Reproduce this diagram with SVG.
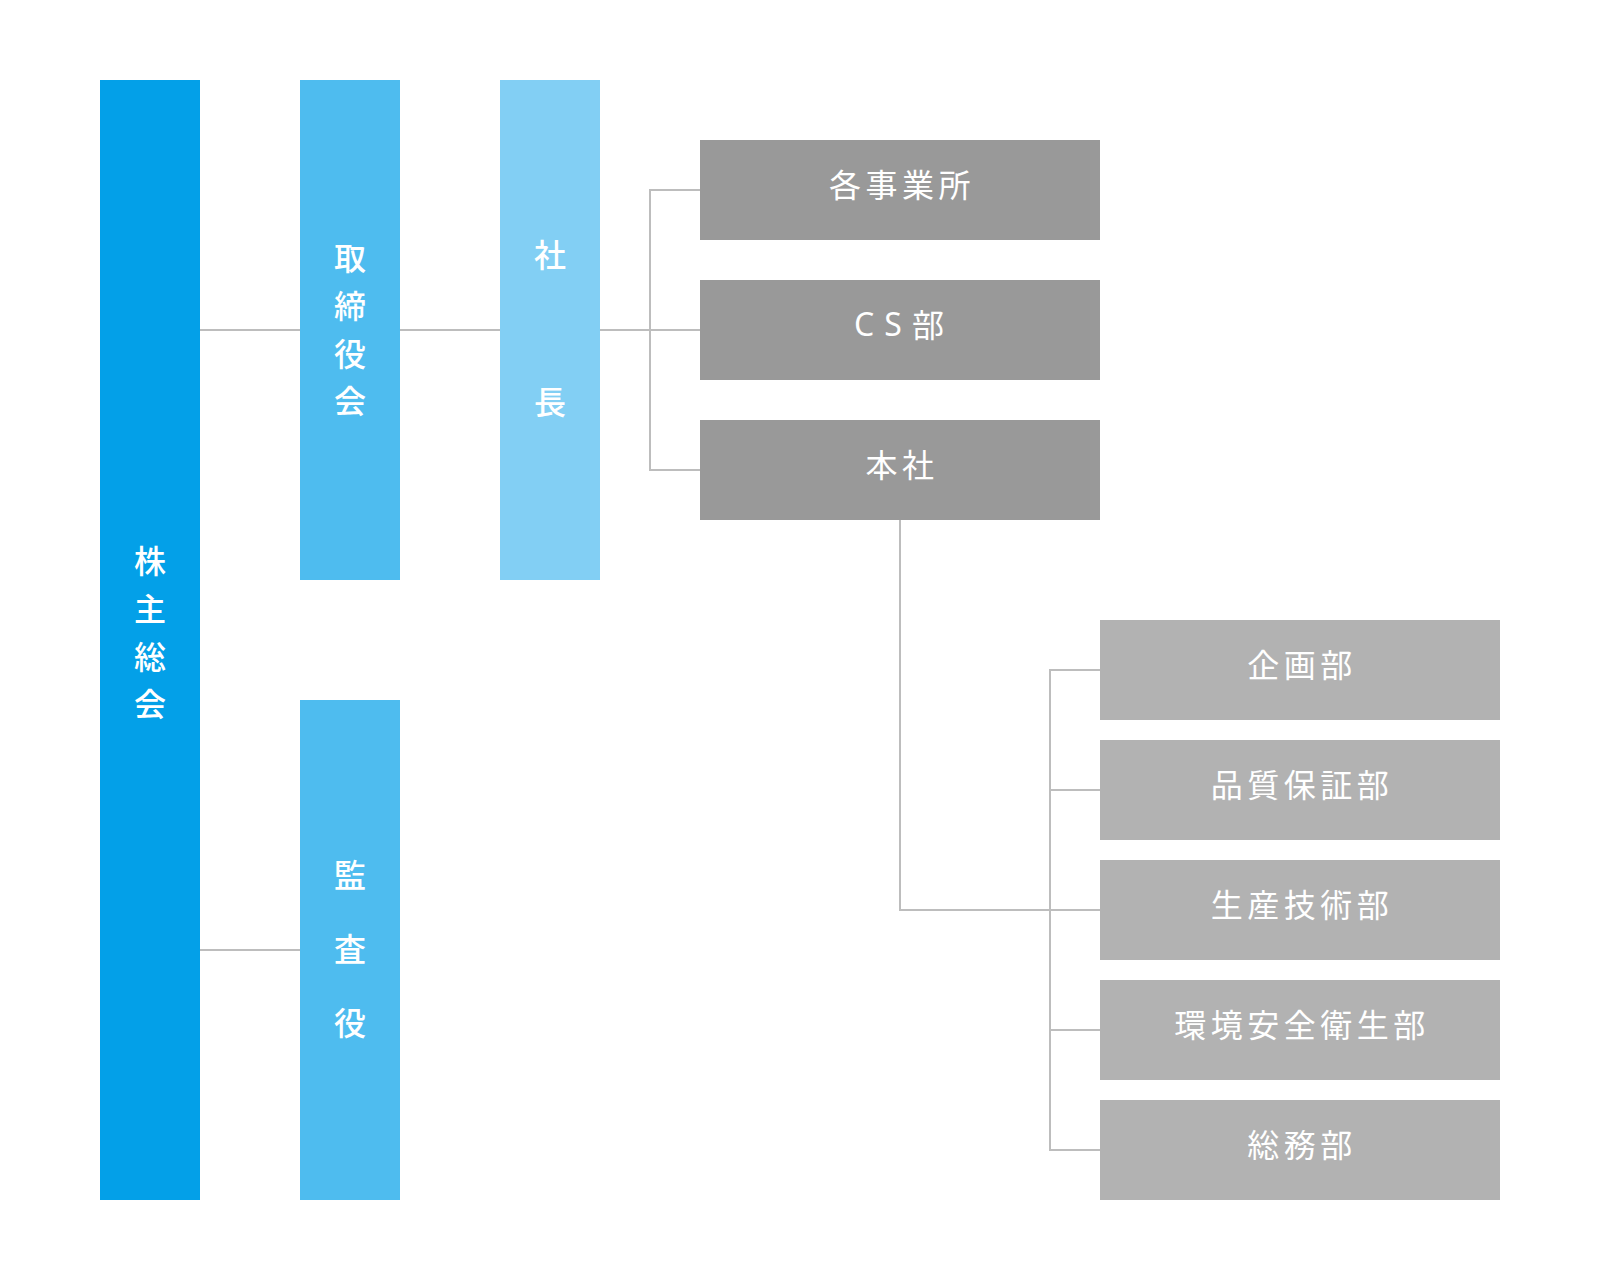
<svg xmlns="http://www.w3.org/2000/svg" width="1600" height="1280" viewBox="0 0 1600 1280">
<style>
.t{font-family:"Noto Sans CJK JP","Noto Sans",sans-serif;font-size:32px;fill:#ffffff;text-anchor:middle;dominant-baseline:central}
.h{letter-spacing:4.5px}
.v{font-weight:500}
.lat{font-family:"Noto Sans",sans-serif}
.c{fill:none;stroke:#bdbdbd;stroke-width:2}
.b1{fill:#03a0e8}.b2{fill:#4ebcef}.b3{fill:#82cff4}.g1{fill:#999999}.g2{fill:#b2b2b2}
</style>
<rect width="1600" height="1280" fill="#ffffff"/>
<g id="connectors">
<path class="c" d="M200 330H300M400 330H500M600 330H700"/>
<path class="c" d="M700 190H650V470H700"/>
<path class="c" d="M200 950H300"/>
<path class="c" d="M900 520V910H1100"/>
<path class="c" d="M1100 670H1050V1150H1100M1050 790H1100M1050 1030H1100"/>
</g>
<g id="kabunushi"><rect class="b1" x="100" y="80" width="100" height="1120"/>
<text class="t v" x="150" y="559">株</text><text class="t v" x="150" y="607">主</text><text class="t v" x="150" y="655">総</text><text class="t v" x="150" y="702">会</text></g>
<g id="torishimariyaku"><rect class="b2" x="300" y="80" width="100" height="500"/>
<text class="t v" x="350" y="256">取</text><text class="t v" x="350" y="304">締</text><text class="t v" x="350" y="352">役</text><text class="t v" x="350" y="399">会</text></g>
<g id="shacho"><rect class="b3" x="500" y="80" width="100" height="500"/>
<text class="t v" x="550" y="253">社</text><text class="t v" x="550" y="400">長</text></g>
<g id="kansayaku"><rect class="b2" x="300" y="700" width="100" height="500"/>
<text class="t v" x="350" y="873">監</text><text class="t v" x="350" y="947">査</text><text class="t v" x="350" y="1021">役</text></g>
<g id="jigyosho"><rect class="g1" x="700" y="140" width="400" height="100"/><text class="t h" x="902" y="183">各事業所</text></g>
<g id="cs"><rect class="g1" x="700" y="280" width="400" height="100"/><text class="t" style="letter-spacing:10px" x="904" y="323"><tspan class="lat">CS</tspan>部</text></g>
<g id="honsha"><rect class="g1" x="700" y="420" width="400" height="100"/><text class="t h" x="902" y="463">本社</text></g>
<g id="kikaku"><rect class="g2" x="1100" y="620" width="400" height="100"/><text class="t h" x="1302" y="663">企画部</text></g>
<g id="hinshitsu"><rect class="g2" x="1100" y="740" width="400" height="100"/><text class="t h" x="1302" y="783">品質保証部</text></g>
<g id="seisan"><rect class="g2" x="1100" y="860" width="400" height="100"/><text class="t h" x="1302" y="903">生産技術部</text></g>
<g id="kankyo"><rect class="g2" x="1100" y="980" width="400" height="100"/><text class="t h" x="1302" y="1023">環境安全衛生部</text></g>
<g id="somu"><rect class="g2" x="1100" y="1100" width="400" height="100"/><text class="t h" x="1302" y="1143">総務部</text></g>
</svg>
